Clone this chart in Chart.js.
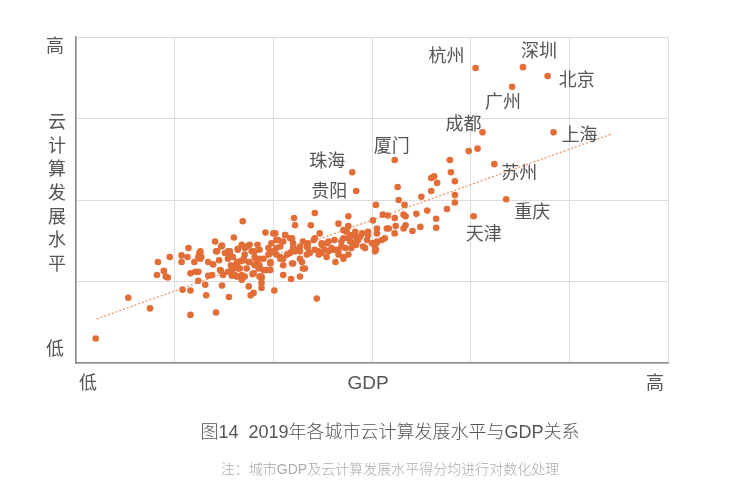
<!DOCTYPE html>
<html>
<head>
<meta charset="utf-8">
<script src="https://cdn.jsdelivr.net/npm/chart.js@4.4.1/dist/chart.umd.min.js"></script>
<style>
	html, body { margin: 0; padding: 0; background: #fff; }
	#wrap { position: relative; width: 740px; height: 497px; }
</style>
</head>
<body>
<div id="wrap"><canvas id="c" width="740" height="497"></canvas></div>
<script>
// log-scaled scores (x: GDP, y: cloud computing level)
const cityNames = ["杭州", "深圳", "北京", "广州", "成都", "上海", "苏州", "重庆", "天津", "厦门", "珠海", "贵阳"];
const cityGdp   = [4.05, 4.53, 4.78, 4.42, 4.12, 4.84, 4.24, 4.36, 4.03, 3.23, 2.80, 2.84];
const cityCloud = [3.62, 3.63, 3.52, 3.39, 2.83, 2.83, 2.44, 2.01, 1.80, 2.49, 2.34, 2.11];

const otherGdp = [
	3.98, 4.07, 3.79, 3.80, 3.84, 3.84, 3.84, 3.76, 3.65, 3.65, 3.60, 3.60, 3.63, 3.66, 3.50, 3.56,
	3.45, 3.49, 3.41, 3.34, 3.34, 3.26, 3.27, 3.04, 3.23, 3.16, 3.24, 3.23, 3.17, 3.13, 3.05, 3.03,
	0.20, 0.53, 0.75, 0.82, 0.83, 0.89, 0.91, 0.93, 0.95, 1.07, 1.07, 1.13, 1.14, 1.08, 1.16, 1.16,
	1.16, 1.20, 1.21, 1.24, 1.25, 1.27, 1.31, 1.32, 1.34, 1.34, 1.39, 1.41, 1.42, 1.43, 1.45, 1.47,
	1.47, 1.48, 1.55, 1.56, 1.57, 1.60, 1.58, 1.63, 1.64, 1.67, 1.68, 1.69, 1.71, 1.73, 1.75, 1.76,
	1.77, 1.79, 1.80, 1.81, 1.84, 1.86, 1.88, 1.88, 1.92, 1.93, 1.95, 1.97, 2.01, 2.02, 2.03, 2.07,
	2.10, 2.12, 2.17, 2.18, 2.20, 2.21, 2.22, 2.24, 2.27, 2.30, 2.34, 2.38, 2.42, 2.44, 2.47, 2.49,
	2.54, 2.61, 2.63, 2.66, 2.69, 2.71, 2.74, 2.76, 2.81, 2.88, 2.95,
	1.48, 1.42, 1.26, 1.26, 1.51, 1.56, 1.59, 1.68, 1.78, 1.86, 1.98, 2.03, 2.07, 1.97, 2.03, 2.10,
	1.90, 1.83, 1.70, 1.63, 1.58, 1.64, 1.68, 1.61, 1.54, 1.49, 1.46, 1.38, 1.24, 1.88, 1.80, 1.85,
	1.97, 1.88,
	3.33, 2.76, 2.71, 2.83, 2.96, 3.01, 3.05, 3.15, 3.32, 3.32, 3.01, 3.03, 2.86, 2.78, 2.71, 2.62,
	2.56, 2.49, 2.41, 2.27, 2.19, 2.22, 2.19, 2.34, 2.42, 2.46, 2.52, 2.59, 2.66, 2.71, 2.54, 2.79,
	2.84, 2.93,
	2.00, 2.05, 2.12, 2.17, 2.30, 2.35, 2.27, 2.20, 2.14, 2.07, 2.00, 1.95, 1.97, 1.86, 1.81, 1.76,
	1.71, 1.70, 1.75, 1.81, 1.73, 1.90, 2.10, 2.20, 2.29, 2.32, 2.27, 2.10, 1.86, 1.71,
	3.11, 2.74, 2.78, 2.35, 2.42, 2.49, 2.69, 2.76, 2.83, 2.90, 2.96, 3.05, 3.10, 3.00, 2.91, 2.83,
	2.73, 2.64, 2.56, 2.46, 2.37, 2.66, 2.76, 3.04, 3.05,
	1.26, 1.54, 1.64, 1.54, 1.63, 1.58, 1.66, 1.24
];
const otherCloud = [
	2.60, 2.63, 2.49, 2.34, 2.23, 2.06, 1.97, 1.89, 1.77, 1.66, 2.11, 2.27, 2.29, 2.21, 2.04, 1.87,
	1.83, 1.67, 1.62, 1.80, 1.69, 2.16, 2.00, 1.94, 1.78, 1.81, 1.68, 1.59, 1.65, 1.53, 1.48, 1.43,
	0.30, 0.80, 0.67, 1.08, 1.24, 1.13, 1.06, 1.05, 1.30, 1.24, 1.32, 1.30, 1.41, 0.90, 0.89, 0.59,
	1.10, 1.24, 1.12, 1.01, 1.35, 1.30, 0.96, 0.83, 1.24, 1.07, 1.21, 1.49, 0.62, 1.37, 1.26, 1.13,
	1.43, 0.95, 0.81, 1.33, 1.20, 1.54, 1.07, 1.06, 1.40, 1.25, 1.02, 1.74, 1.33, 1.43, 0.94, 1.24,
	0.83, 1.09, 0.86, 1.30, 1.45, 1.20, 1.04, 0.92, 1.60, 1.14, 1.33, 1.22, 0.89, 1.59, 1.41, 1.30,
	1.49, 1.57, 1.35, 1.03, 1.47, 1.78, 1.69, 1.39, 1.28, 1.16, 1.43, 1.69, 1.84, 0.79, 1.59, 1.35,
	1.47, 1.39, 1.24, 1.71, 1.43, 1.28, 1.61, 1.80, 1.47, 1.55, 1.51,
	1.44, 1.37, 1.35, 1.28, 1.35, 1.37, 1.30, 1.45, 1.37, 1.39, 1.47, 1.51, 1.43, 1.35, 1.33, 1.28,
	1.28, 1.26, 1.26, 1.22, 1.14, 1.16, 1.08, 1.08, 1.12, 1.08, 1.14, 1.08, 1.12, 1.06, 1.10, 1.16,
	1.14, 0.98,
	1.94, 1.68, 1.63, 1.61, 1.61, 1.75, 1.65, 1.65, 1.82, 1.65, 1.47, 1.37, 1.51, 1.49, 1.53, 1.51,
	1.49, 1.47, 1.51, 1.43, 1.53, 1.37, 1.22, 1.33, 1.39, 1.33, 1.39, 1.41, 1.37, 1.30, 1.30, 1.41,
	1.45, 1.41,
	1.59, 1.51, 1.57, 1.53, 1.49, 1.41, 1.37, 1.41, 1.33, 1.28, 1.37, 1.41, 1.24, 1.28, 1.37, 1.45,
	1.41, 1.28, 1.24, 1.20, 1.16, 1.14, 1.20, 1.22, 1.24, 1.16, 1.06, 1.08, 1.06, 1.06,
	1.82, 1.63, 1.57, 1.47, 1.53, 1.45, 1.49, 1.53, 1.55, 1.59, 1.57, 1.59, 1.51, 1.47, 1.43, 1.45,
	1.41, 1.39, 1.37, 1.37, 1.35, 1.33, 1.33, 1.39, 1.49,
	1.37, 1.37, 1.39, 1.28, 1.24, 1.18, 1.16, 1.30
];

const trendGdp = [0.21, 5.43];
const trendCloud = [0.54, 2.81];

const labelOffsets = {
	"杭州": [-29, -11], "深圳": [16, -15], "北京": [29, 5], "广州": [-9, 16],
	"成都": [-19, -7], "上海": [26, 4], "苏州": [25, 10], "重庆": [26, 14],
	"天津": [10, 19], "厦门": [-3, -13], "珠海": [-25, -10], "贵阳": [-27, 1]
};

const textColor = "#555";
const cjk = '"Liberation Sans", "Noto Sans CJK SC", sans-serif';

const textPlugin = {
	id: "texts",
	afterDatasetsDraw(chart) {
		const ctx = chart.ctx;
		const x = chart.scales.x, y = chart.scales.y;
		ctx.save();
		ctx.textAlign = "center";
		ctx.textBaseline = "middle";
		ctx.fillStyle = textColor;
		ctx.font = "18px " + cjk;
		cityNames.forEach((name, i) => {
			const off = labelOffsets[name];
			ctx.fillText(name, x.getPixelForValue(cityGdp[i]) + off[0], y.getPixelForValue(cityCloud[i]) + off[1]);
		});

		ctx.fillText("高", 55, 47);
		ctx.fillText("低", 55, 350);
		ctx.fillText("低", 88, 384);
		ctx.fillText("高", 655, 384);
		ctx.font = "19px " + cjk;
		ctx.fillText("GDP", 368, 384);
		ctx.font = "18px " + cjk;
		"云计算发展水平".split("").forEach((ch, i) => ctx.fillText(ch, 57, 123 + i * 23.7));

		ctx.font = "300 18px " + cjk;
		ctx.fillText("图14  2019年各城市云计算发展水平与GDP关系", 390, 433);
		ctx.fillStyle = "#aaa";
		ctx.font = "300 14px " + cjk;
		ctx.fillText("注：城市GDP及云计算发展水平得分均进行对数化处理", 390, 470);
		ctx.restore();
	}
};

new Chart(document.getElementById("c"), {
	type: "scatter",
	data: {
		datasets: [
			{
				data: otherGdp.map((v, i) => ({ x: v, y: otherCloud[i] }))
					.concat(cityGdp.map((v, i) => ({ x: v, y: cityCloud[i] }))),
				backgroundColor: "#e36d36",
				borderWidth: 0,
				pointRadius: 3.3,
				order: 1
			},
			{
				type: "line",
				data: trendGdp.map((v, i) => ({ x: v, y: trendCloud[i] })),
				borderColor: "#f0905e",
				borderWidth: 1.2,
				borderDash: [2, 2],
				pointRadius: 0,
				fill: false,
				order: 2
			}
		]
	},
	options: {
		responsive: false,
		animation: false,
		layout: { padding: { left: 76, right: 72, top: 37, bottom: 134 } },
		plugins: { legend: { display: false }, tooltip: { enabled: false } },
		scales: {
			x: {
				type: "linear", min: 0, max: 6,
				ticks: { display: false, stepSize: 1 },
				grid: { color: "#dcdcdc", drawTicks: false },
				border: { color: "#8c8c8c", width: 1.5 }
			},
			y: {
				type: "linear", min: 0, max: 4,
				ticks: { display: false, stepSize: 1 },
				grid: { color: "#dcdcdc", drawTicks: false },
				border: { color: "#8c8c8c", width: 1.5 }
			}
		}
	},
	plugins: [textPlugin]
});
</script>
</body>
</html>
